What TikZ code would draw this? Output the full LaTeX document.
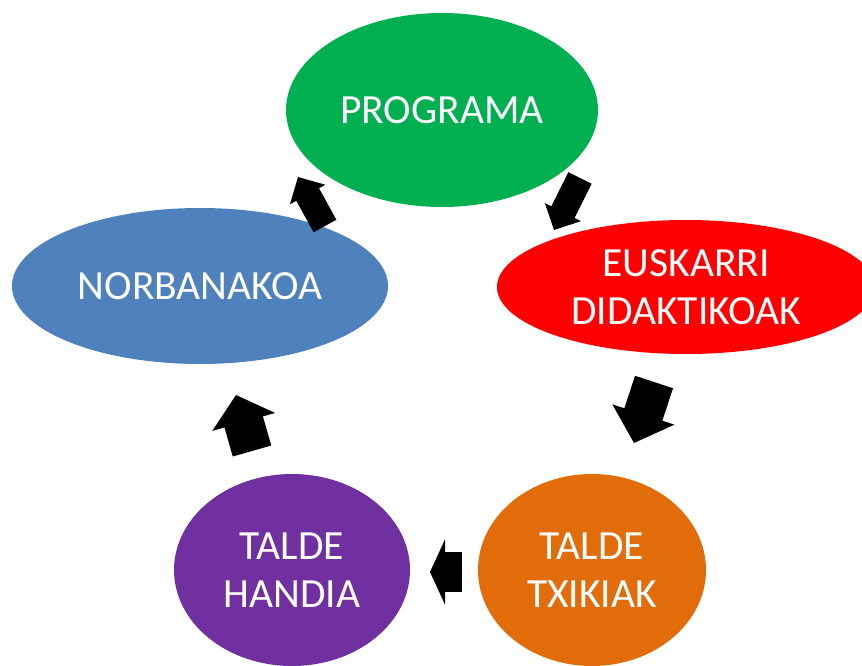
\documentclass[tikz,border=0pt]{standalone}
\usepackage{fontspec}
\setmainfont{Carlito}
\usepackage{tikz}
\usetikzlibrary{arrows.meta, shapes.geometric}

\definecolor{progGreen}{HTML}{00B050}
\definecolor{euskRed}{HTML}{FF0000}
\definecolor{norbBlue}{HTML}{4F81BD}
\definecolor{handiPurple}{HTML}{7030A0}
\definecolor{txikiOrange}{HTML}{E36C0A}

\begin{document}
\begin{tikzpicture}[x=1pt, y=-1pt,
    bubble/.style={ellipse, inner sep=0pt, text=white, align=center,
        font=\fontsize{41.5}{48}\selectfont},
    bigarrow/.style={line width=40pt,
        -{Triangle[length=#1, width=65pt, line width=2pt]}},
    smallarrow/.style={line width=26pt,
        -{Triangle[length=20pt, width=40pt, line width=2pt]}}]
    \useasboundingbox (0,0) rectangle (862,666);
    \clip (0,0) rectangle (862,666);

    % Bubbles
    \node[bubble, fill=progGreen, minimum width=312pt, minimum height=194pt] (prog) at (442,110) {PROGRAMA};
    \node[bubble, fill=euskRed, minimum width=378pt, minimum height=134pt] (eusk) at (686,287) {EUSKARRI\\DIDAKTIKOAK};
    \node[bubble, fill=norbBlue, minimum width=376pt, minimum height=156pt] (norb) at (200,286) {NORBANAKOA};
    \node[bubble, fill=handiPurple, minimum width=236pt, minimum height=192pt] (handi) at (292,570) {TALDE\\HANDIA};
    \node[bubble, fill=txikiOrange, minimum width=228pt, minimum height=192pt] (txiki) at (592,570) {TALDE\\TXIKIAK};

    % Arrow ends
    \coordinate (p2e) at (580,178);
    \coordinate (p2e') at (554,230);
    \coordinate (e2t) at (654,382);
    \coordinate (e2t') at (634,443);
    \coordinate (t2h) at (462,572);
    \coordinate (t2h') at (430,572);
    \coordinate (h2n) at (252,451);
    \coordinate (h2n') at (236,395);
    \coordinate (n2p) at (325,226);
    \coordinate (n2p') at (298,177);

    % Cycle arrows
    \draw[smallarrow] (p2e) -- (p2e');
    \draw[bigarrow=30pt] (e2t) -- (e2t');
    \draw[bigarrow=15pt] (t2h) -- (t2h');
    \draw[bigarrow=28pt] (h2n) -- (h2n');
    \draw[smallarrow] (n2p) -- (n2p');
\end{tikzpicture}
\end{document}
